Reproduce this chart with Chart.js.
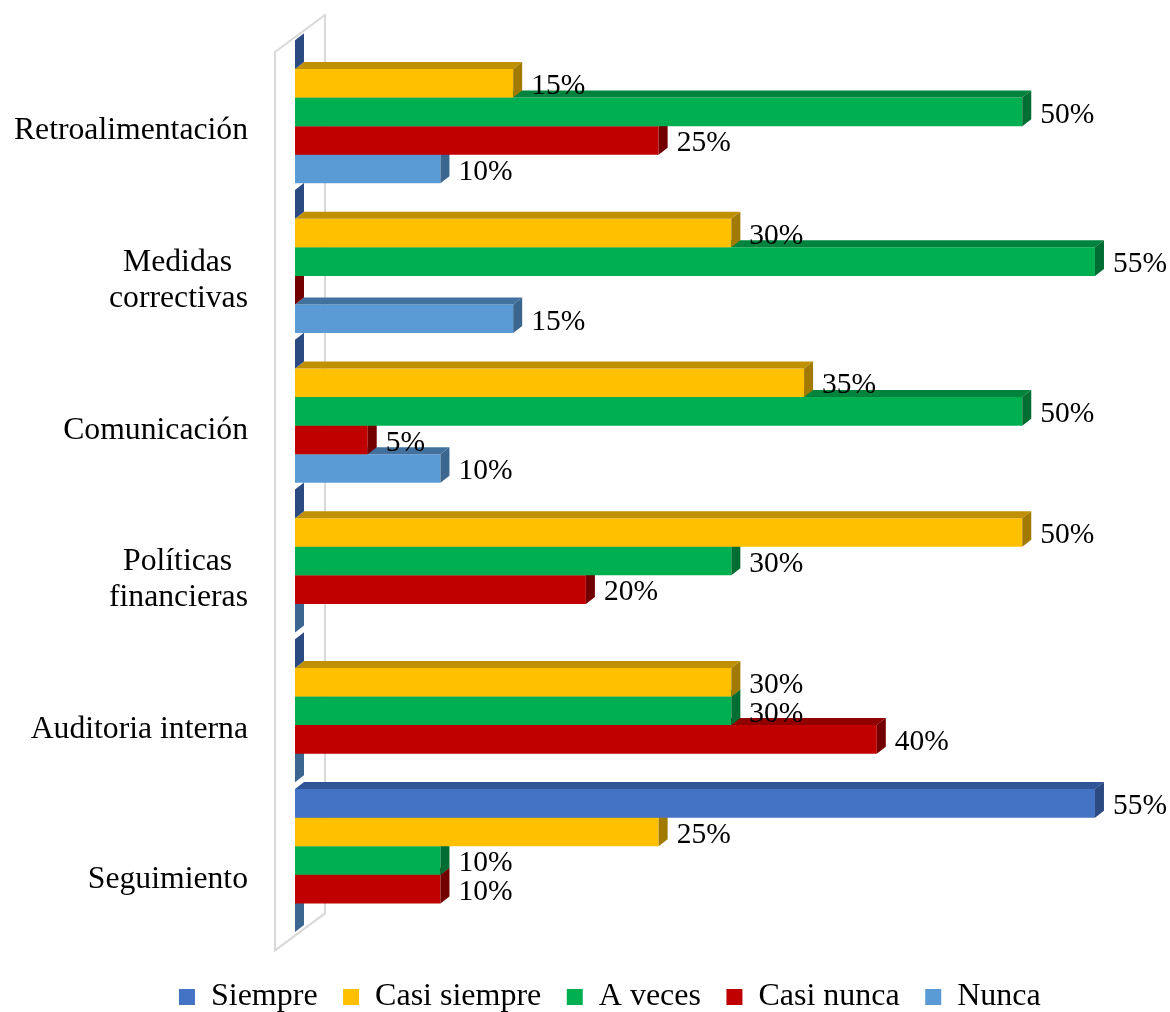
<!DOCTYPE html>
<html>
<head>
<meta charset="utf-8">
<title>Frecuencia por dimensión</title>
<script src="https://cdn.jsdelivr.net/npm/chart.js@4.4.0/dist/chart.umd.min.js"></script>
<style>
  html, body { margin: 0; padding: 0; background: #ffffff; overflow: hidden; }
  #wrap { width: 1170px; height: 1023px; }
</style>
</head>
<body>
<div id="wrap"><canvas id="chart" width="1170" height="1023"></canvas></div>
<script>
// Categories (top to bottom) and answer series, in percent
const categories = ['Retroalimentación', ['Medidas', 'correctivas'], 'Comunicación', ['Políticas', 'financieras'], 'Auditoria interna', 'Seguimiento'];
const seriesNames = ['Siempre', 'Casi siempre', 'A veces', 'Casi nunca', 'Nunca'];
const siempre     = [0, 0, 0, 0, 0, 55];
const casiSiempre = [15, 30, 35, 50, 30, 25];
const aVeces      = [50, 55, 50, 30, 30, 10];
const casiNunca   = [25, 0, 5, 20, 40, 10];
const nunca       = [10, 15, 10, 0, 0, 0];
const axisMin = 0;
const axisMax = 60;

const seriesData = [siempre, casiSiempre, aVeces, casiNunca, nunca];

// Face colours: front, top (lit from above), right side (shadowed)
const frontColors = ['#4472C4', '#FFC000', '#00B050', '#C00000', '#5B9BD5'];
const topColors   = ['#2F5597', '#BF9000', '#00843D', '#900000', '#41719C'];
const sideColors  = ['#2C4A82', '#A37A00', '#006E32', '#720000', '#3A6690'];

const SERIF = '"Liberation Serif", "Times New Roman", serif';
const DEPTH_X = 9;        // receding depth of each bar, to the right
const DEPTH_Y = 7;        // ... and upwards
const LEGEND_INSET = 52;  // legend row is centred a little right of the page centre

// Centre the lines of a wrapped label inside its right-aligned block
const measureCtx = document.createElement('canvas').getContext('2d');
function centreLines(lines, size) {
  measureCtx.font = size + 'px ' + SERIF;
  const widths = lines.map(l => measureCtx.measureText(l).width);
  const widest = Math.max(...widths);
  const space = measureCtx.measureText(' ').width;
  return lines.map((l, i) => l + ' '.repeat(Math.round((widest - widths[i]) / 2 / space)));
}

const legendInset = {
  id: 'legendInset',
  afterLayout(chart) {
    if (chart.legend) chart.legend.left += LEGEND_INSET;
  }
};

const bar3d = {
  id: 'bar3d',
  // side wall outline behind the bars
  beforeDatasetsDraw(chart) {
    const { ctx, chartArea: ca } = chart;
    const fx = ca.left - 20, fTop = ca.top + 15, fBot = ca.bottom + 15;
    const wallDX = 50, wallDY = 37;
    ctx.save();
    ctx.strokeStyle = '#D9D9D9';
    ctx.lineWidth = 2;
    ctx.beginPath();
    ctx.moveTo(fx, fBot);
    ctx.lineTo(fx, fTop);
    ctx.lineTo(fx + wallDX, fTop - wallDY);
    ctx.lineTo(fx + wallDX, fBot - wallDY);
    ctx.closePath();
    ctx.stroke();
    ctx.restore();
  },
  // top and end faces of every bar, drawn right after its series
  afterDatasetDraw(chart, args) {
    const { ctx } = chart;
    const i = args.index;
    ctx.save();
    args.meta.data.forEach(bar => {
      const p = bar.getProps(['x', 'y', 'base', 'height'], true);
      const top = p.y - p.height / 2;
      const bot = p.y + p.height / 2;
      const x0 = Math.min(p.x, p.base);
      const x1 = Math.max(p.x, p.base);
      if (x1 > x0) {
        ctx.fillStyle = topColors[i];
        ctx.beginPath();
        ctx.moveTo(x0, top);
        ctx.lineTo(x1, top);
        ctx.lineTo(x1 + DEPTH_X, top - DEPTH_Y);
        ctx.lineTo(x0 + DEPTH_X, top - DEPTH_Y);
        ctx.closePath();
        ctx.fill();
      }
      ctx.fillStyle = sideColors[i];
      ctx.beginPath();
      ctx.moveTo(x1, top);
      ctx.lineTo(x1 + DEPTH_X, top - DEPTH_Y);
      ctx.lineTo(x1 + DEPTH_X, bot - DEPTH_Y);
      ctx.lineTo(x1, bot);
      ctx.closePath();
      ctx.fill();
    });
    ctx.restore();
  },
  // value labels at the end of each bar
  afterDatasetsDraw(chart) {
    const { ctx } = chart;
    ctx.save();
    ctx.font = '29.5px ' + SERIF;
    ctx.fillStyle = '#000000';
    ctx.textAlign = 'left';
    ctx.textBaseline = 'middle';
    chart.data.datasets.forEach((ds, i) => {
      chart.getDatasetMeta(i).data.forEach((bar, j) => {
        const v = ds.data[j];
        if (!v) return;
        ctx.fillText(v + '%', bar.x + 18, bar.y + 3);
      });
    });
    ctx.restore();
  }
};

new Chart(document.getElementById('chart'), {
  type: 'bar',
  data: {
    labels: categories,
    datasets: seriesNames.map((name, i) => ({
      label: name,
      data: seriesData[i],
      backgroundColor: frontColors[i],
      borderWidth: 0,
      categoryPercentage: 0.955,
      barPercentage: 1
    }))
  },
  options: {
    indexAxis: 'y',
    responsive: false,
    animation: false,
    devicePixelRatio: 1,
    layout: { padding: { left: 0, right: 2.3, top: 37, bottom: 0 } },
    scales: {
      x: {
        min: axisMin,
        max: axisMax,
        grid: { display: false, drawTicks: false },
        border: { display: false },
        ticks: { display: false },
        afterFit(scale) { scale.height = 20.1; }
      },
      y: {
        grid: { display: false, drawTicks: false },
        border: { display: false },
        ticks: {
          color: '#000000',
          font: { family: SERIF, size: 31.7, lineHeight: 1.14 },
          padding: 47,
          labelOffset: 19,
          autoSkip: false,
          callback(value, index) {
            const label = categories[index];
            return Array.isArray(label) ? centreLines(label, 31.7) : label;
          }
        },
        afterFit(scale) {
          scale.width = 295;
          scale.paddingTop = 0;
          scale.paddingBottom = 0;
        }
      }
    },
    plugins: {
      legend: {
        position: 'bottom',
        labels: {
          boxWidth: 16,
          boxHeight: 16,
          padding: 25.5,
          color: '#000000',
          font: { family: SERIF, size: 32 }
        }
      },
      tooltip: { enabled: false }
    }
  },
  plugins: [bar3d, legendInset]
});
</script>
</body>
</html>
